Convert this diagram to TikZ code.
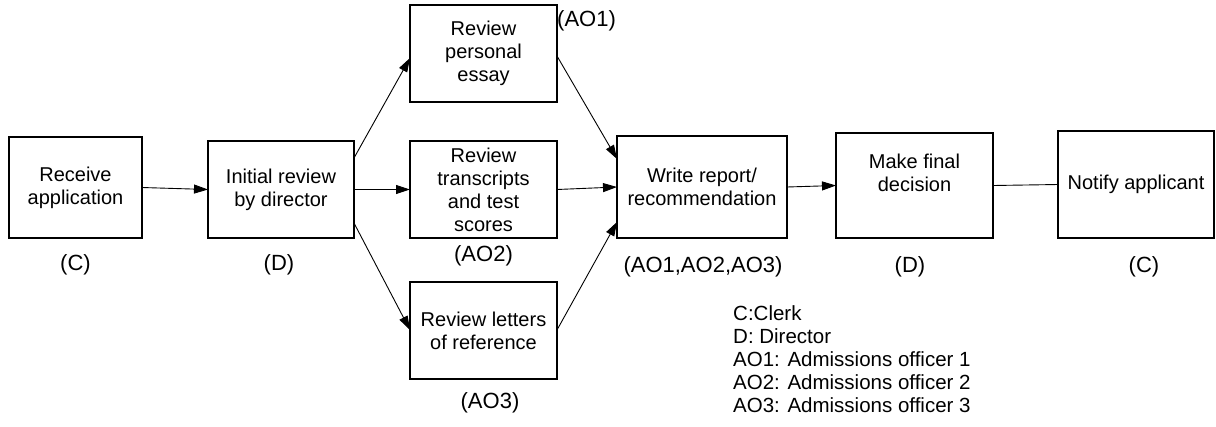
\documentclass[tikz,border=0pt]{standalone}
\usepackage{fontspec}
\setmainfont{Liberation Sans}
\usetikzlibrary{arrows.meta}
\begin{document}
\begin{tikzpicture}[x=1pt,y=-1pt,
  every node/.style={font=\fontsize{20}{23}\selectfont},
  box/.style={draw=black, line width=1.1pt, fill=white, align=center,
    inner sep=0pt, outer sep=0pt},
  tag/.style={inner sep=0pt, font=\fontsize{22}{25}\selectfont},
  key/.style={inner sep=0pt, font=\fontsize{20.5}{23}\selectfont},
  flow/.style={line width=0.9pt, -{Triangle[length=14pt,width=9pt]}},
  link/.style={line width=0.9pt}]
\useasboundingbox (0,0) rectangle (1216,426);
\fill[white] (0,0) rectangle (1216,426);

% process boxes
\node[box, minimum width=133pt, minimum height=101pt] (recv)   at (75.5,187.5)  {Receive\\application};
\node[box, minimum width=146pt, minimum height=97pt]  (init)   at (281,189.5)   {Initial review\\by director};
\node[box, minimum width=147pt, minimum height=97pt]  (essay)  at (483.5,53.5)  {Review\\personal\\essay};
\node[box, minimum width=147pt, minimum height=97pt]  (trans)  at (483.5,189.5) {Review\\transcripts\\and test\\scores};
\node[box, minimum width=147pt, minimum height=97pt]  (letters) at (483.5,330.5) {Review letters\\of reference};
\node[box, minimum width=170pt, minimum height=102pt] (write)  at (702,187)     {Write report/\\recommendation};
\node[box, minimum width=157pt, minimum height=105pt] (make)   at (914.5,185.5) {Make final\\decision\\[3pt]};
\node[box, minimum width=156pt, minimum height=107pt] (notify) at (1136,184.5)  {Notify applicant};

% role tags
\node[tag, anchor=west] (tEssay) at (557,21) {(AO1)};
\node[tag] (tRecv)    at (75.5,265)  {(C)};
\node[tag] (tInit)    at (279,265)   {(D)};
\node[tag] (tTrans)   at (483.5,256) {(AO2)};
\node[tag] (tLetters) at (490,403)   {(AO3)};
\node[tag] (tWrite)   at (703,267)   {(AO1,AO2,AO3)};
\node[tag] (tMake)    at (910,267)   {(D)};
\node[tag] (tNotify)  at (1144,267)  {(C)};

% legend
\node[key, anchor=north west, align=left] (legend) at (733,305)
  {C:Clerk\\D: Director\\AO1: Admissions officer 1\\AO2: Admissions officer 2\\AO3: Admissions officer 3};

% connectors
\draw[flow] (recv.east) -- (init.west);
\draw[flow] (init.east) -- (trans.west);
\draw[flow] ([yshift=-17pt]init.north east) -- ([yshift=-53pt]essay.north west);
\draw[flow] ([yshift=15pt]init.south east) -- ([yshift=-48pt]letters.north west);
\draw[flow] ([yshift=-51pt]essay.north east) -- ([yshift=-23pt]write.north west);
\draw[flow] (trans.east) -- (write.west);
\draw[flow] ([yshift=-48pt]letters.north east) -- ([yshift=16pt]write.south west);
\draw[flow] (write.east) -- (make.west);
\draw[link] (make.east) -- (notify.west);
\end{tikzpicture}
\end{document}
